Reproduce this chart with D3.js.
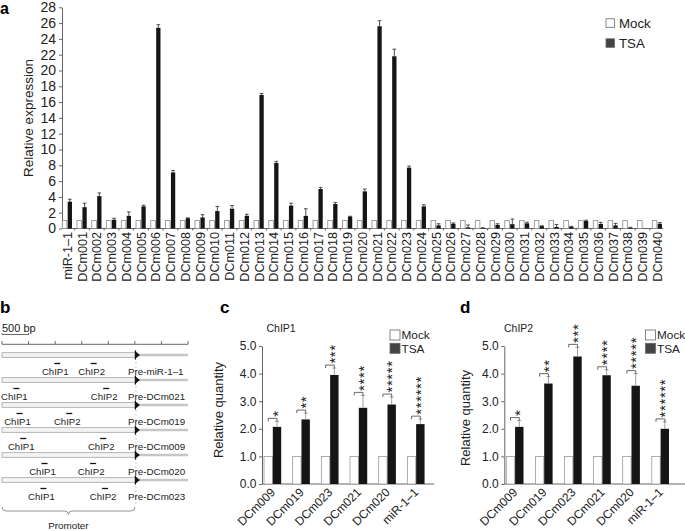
<!DOCTYPE html>
<html><head><meta charset="utf-8">
<script src="https://cdn.jsdelivr.net/npm/d3@7"></script>
<style>
body{margin:0;background:#fff;}
svg{font-family:"Liberation Sans",Arial,Helvetica,sans-serif;}
</style></head>
<body><svg id="c" width="685" height="531"></svg>
<script>
// ---------------- DATA ----------------
const aCats = ["miR-1–1","DCm001","DCm002","DCm003","DCm004","DCm005","DCm006","DCm007","DCm008","DCm009","DCm010",
 "DCm011","DCm012","DCm013","DCm014","DCm015","DCm016","DCm017","DCm018","DCm019","DCm020",
 "DCm021","DCm022","DCm023","DCm024","DCm025","DCm026","DCm027","DCm028","DCm029","DCm030",
 "DCm031","DCm032","DCm033","DCm034","DCm035","DCm036","DCm037","DCm038","DCm039","DCm040"];
const aMock = [1,1,1,1,1,1,1,1,1,1,1, 1,1,1,1,1,1,1,1,1,1, 1,1,1,1,1,1,1,1,1,1, 1,1,1,1,1,1,1,1,1,1];
const aTSA = [3.4,2.7,4.1,1.1,1.6,2.8,25.4,7.1,1.3,1.4,2.2,
 2.5,1.6,16.9,8.3,2.9,1.6,5.0,3.1,1.5,4.7,
 25.6,21.8,7.7,2.8,0.4,0.6,0.15,0.05,0.45,0.55,
 0.65,0.3,0.2,0.22,0.95,0.57,0.4,0.1,0.02,0.6];
const aTSAerr = [0.3,0.5,0.4,0.2,0.5,0.15,0.4,0.25,0.05,0.35,0.6,
 0.4,0.2,0.2,0.2,0.3,0.9,0.2,0.2,0.05,0.3,
 0.7,0.9,0.2,0.2,0.2,0.1,0.3,0.05,0.15,0.65,
 0.15,0.05,0.3,0.05,0.1,0.2,0.25,0.05,0,0.15];
const aYTicks = [0,2,4,6,8,10,12,14,16,18,20,22,24,26,28];

const bRows = ["Pre-miR-1–1","Pre-DCm021","Pre-DCm019","Pre-DCm009","Pre-DCm020","Pre-DCm023"];
const bChip1 = [1040,270,330,400,800,780];     // bp
const bChip2 = [1725,1960,1265,1905,1715,1940]; // bp
const bTSS = 2520;
const bLen = 3500;

const chipCats = ["DCm009","DCm019","DCm023","DCm021","DCm020","miR-1–1"];
const chipMock = [1,1,1,1,1,1];
const chip1TSA = [2.07,2.34,3.95,2.76,2.88,2.17];
const chip1Err = [0.2,0.23,0.25,0.45,0.27,0.18];
const chip2TSA = [2.07,3.64,4.62,3.94,3.56,2.0];
const chip2Err = [0.23,0.25,0.33,0.2,0.44,0.25];
const chipStars = [1,2,3,4,5,6];
const chipYTicks = [0,1,2,3,4,5];

// ---------------- DRAW ----------------
const svg = d3.select("#c");
const axisCol = "#666", txtCol = "#222";

// ===== Panel a =====
const ga = svg.append("g");
const xa = d3.scaleBand().domain(aCats).range([59.9, 664.65]);
const ya = d3.scaleLinear().domain([0,28]).range([228.5, 7.3]);
ga.append("text").attr("x",0).attr("y",14).attr("font-weight","bold").attr("font-size",16).text("a");

const yAx = ga.append("g").attr("transform","translate(62,0)")
  .call(d3.axisLeft(ya).tickValues(aYTicks).tickSize(3).tickSizeOuter(0).tickPadding(3));
yAx.select(".domain").attr("stroke",axisCol);
yAx.selectAll(".tick line").attr("stroke",axisCol);
yAx.selectAll("text").attr("font-size",14).attr("fill",txtCol).attr("font-family","Liberation Sans, Arial, sans-serif");

ga.append("text").attr("transform","translate(28,118) rotate(-90)").attr("dy","0.35em")
  .attr("text-anchor","middle").attr("font-size",13.5).attr("fill",txtCol).text("Relative expression");

// x axis
ga.append("line").attr("x1",62).attr("x2",663).attr("y1",ya(0)).attr("y2",ya(0)).attr("stroke",axisCol);
ga.selectAll(".xt").data(aCats.slice(1)).join("line")
  .attr("x1",d=>xa(d)).attr("x2",d=>xa(d)).attr("y1",ya(0)).attr("y2",ya(0)+2).attr("stroke",axisCol);

const cx = d=>xa(d)+xa.bandwidth()/2;
ga.selectAll(".mock").data(aCats).join("rect")
  .attr("x",d=>cx(d)-5).attr("width",4.6)
  .attr("y",(d,i)=>ya(aMock[i])).attr("height",(d,i)=>ya(0)-ya(aMock[i]))
  .attr("fill","#fff").attr("stroke","#888").attr("stroke-width",0.8);
ga.selectAll(".tsa").data(aCats).join("rect")
  .attr("x",d=>cx(d)+0.4).attr("width",4.3)
  .attr("y",(d,i)=>ya(aTSA[i])).attr("height",(d,i)=>ya(0)-ya(aTSA[i]))
  .attr("fill","#151515");
aCats.forEach((d,i)=>{
  if(aTSAerr[i]<=0) return;
  const ex = cx(d)+2.55, y1=ya(aTSA[i]), y2=ya(aTSA[i]+aTSAerr[i]);
  ga.append("line").attr("x1",ex).attr("x2",ex).attr("y1",y1).attr("y2",y2).attr("stroke","#222").attr("stroke-width",0.8);
  ga.append("line").attr("x1",ex-1.8).attr("x2",ex+1.8).attr("y1",y2).attr("y2",y2).attr("stroke","#222").attr("stroke-width",0.8);
});
ga.selectAll(".xl").data(aCats).join("text")
  .attr("transform",d=>`translate(${cx(d)},232) rotate(-90)`)
  .attr("dy","0.36em").attr("text-anchor","end").attr("font-size",12.6).attr("fill",txtCol).text(d=>d);

// legend a
const legA = [["Mock","#fff"],["TSA","#444"]];
legA.forEach((l,i)=>{
  const yy = 23.3 + i*20;
  ga.append("rect").attr("x",606).attr("y",yy-4.5).attr("width",8.5).attr("height",8.5)
    .attr("fill",l[1]).attr("stroke","#666").attr("stroke-width",0.8);
  ga.append("text").attr("x",619).attr("y",yy).attr("dy","0.36em").attr("font-size",13.3).attr("fill",txtCol).text(l[0]);
});

// ===== Panel b =====
const gb = svg.append("g");
const xbp = d3.scaleLinear().domain([0,bLen]).range([2,188]);
gb.append("text").attr("x",0).attr("y",313).attr("font-weight","bold").attr("font-size",17).text("b");
gb.append("text").attr("x",2).attr("y",331.5).attr("font-size",11).attr("fill",txtCol).text("500 bp");
gb.append("line").attr("x1",xbp(0)).attr("x2",xbp(500)).attr("y1",334.5).attr("y2",334.5).attr("stroke","#444").attr("stroke-width",0.8);
[0,500].forEach(v=>gb.append("line").attr("x1",xbp(v)).attr("x2",xbp(v)).attr("y1",333).attr("y2",334.5).attr("stroke","#444").attr("stroke-width",0.8));
// ruler
gb.append("line").attr("x1",xbp(0)).attr("x2",xbp(bLen)).attr("y1",344.3).attr("y2",344.3).attr("stroke","#444").attr("stroke-width",0.8);
d3.range(0,bLen+1,500).forEach(v=>gb.append("line").attr("x1",xbp(v)).attr("x2",xbp(v)).attr("y1",341).attr("y2",344.3).attr("stroke","#444").attr("stroke-width",0.8));
// vertical dashed TSS line
gb.append("line").attr("x1",xbp(bTSS)).attr("x2",xbp(bTSS)).attr("y1",350).attr("y2",506)
  .attr("stroke","#bbb").attr("stroke-width",0.7).attr("stroke-dasharray","2,2");

const rowY = d3.scaleLinear().domain([0,5]).range([355,480]);
bRows.forEach((name,i)=>{
  const by = rowY(i), ty = by+20;
  const tx = xbp(bTSS);
  gb.append("rect").attr("x",xbp(0)).attr("y",by-2.3).attr("width",tx-xbp(0)).attr("height",4.6)
    .attr("fill","#f3f3f3").attr("stroke","#9a9a9a").attr("stroke-width",0.7);
  gb.append("line").attr("x1",tx+3).attr("x2",xbp(bLen)).attr("y1",by).attr("y2",by).attr("stroke","#c6c6c6").attr("stroke-width",2.6);
  gb.append("path").attr("d",`M${tx-1},${by-4}L${tx+4},${by}L${tx-1},${by+4}Z`).attr("fill","#111");
  gb.append("line").attr("x1",tx-0.5).attr("x2",tx-0.5).attr("y1",by-4.5).attr("y2",by+4.5).attr("stroke","#111").attr("stroke-width",1.2);
  [[bChip1[i],"ChIP1"],[bChip2[i],"ChIP2"]].forEach(([bp,lab])=>{
    const px = xbp(bp);
    gb.append("line").attr("x1",px-3).attr("x2",px+3).attr("y1",ty-11.5).attr("y2",ty-11.5).attr("stroke","#111").attr("stroke-width",1.3);
    gb.append("text").attr("x",px-2).attr("y",ty).attr("text-anchor","middle").attr("font-size",9.6).attr("fill",txtCol).text(lab);
  });
  gb.append("text").attr("x",128).attr("y",ty).attr("font-size",9.8).attr("fill",txtCol).text(name);
});
// brace
const bx0 = xbp(0), bx1 = xbp(bTSS)-1, bm=(bx0+bx1)/2;
gb.append("path").attr("d",`M${bx0},507 Q${bx0},511 ${bx0+4},511 L${bm-4},511 Q${bm},511 ${bm},514.5 Q${bm},511 ${bm+4},511 L${bx1-4},511 Q${bx1},511 ${bx1},507`)
  .attr("fill","none").attr("stroke","#777").attr("stroke-width",0.8);
gb.append("text").attr("x",bm).attr("y",529).attr("text-anchor","middle").attr("font-size",9.8).attr("fill",txtCol).text("Promoter");

// ===== Panels c, d =====
function chipPanel(o){
  const g = svg.append("g");
  const yC = d3.scaleLinear().domain([0,5]).range([484,346]);
  const xC = d3.scaleBand().domain(chipCats).range([o.x0, o.x0+6*o.step]);
  g.append("text").attr("x",o.letterX).attr("y",313).attr("font-weight","bold").attr("font-size",17).text(o.letter);
  g.append("text").attr("x",o.titleX).attr("y",331.5).attr("font-size",10.5).attr("fill",txtCol).text(o.title);
  const ax = g.append("g").attr("transform",`translate(${o.x0},0)`)
    .call(d3.axisLeft(yC).tickValues(chipYTicks).tickFormat(d3.format(".1f")).tickSize(3).tickSizeOuter(0).tickPadding(2.5));
  ax.select(".domain").attr("stroke",axisCol);
  ax.selectAll(".tick line").attr("stroke",axisCol);
  ax.selectAll("text").attr("font-size",12).attr("fill",txtCol).attr("font-family","Liberation Sans, Arial, sans-serif");
  g.append("line").attr("x1",o.x0).attr("x2",o.axisEnd).attr("y1",yC(0)).attr("y2",yC(0)).attr("stroke",axisCol);
  g.append("text").attr("transform",`translate(${o.ylabX},${o.ylabY}) rotate(-90)`).attr("dy","0.35em")
    .attr("text-anchor","middle").attr("font-size",13).attr("fill",txtCol).text("Relative quantity");
  const bw = 8.4;
  chipCats.forEach((c,i)=>{
    const mx = xC(c)+2, tx = xC(c)+10.8;
    g.append("rect").attr("x",mx).attr("y",yC(chipMock[i])).attr("width",bw).attr("height",yC(0)-yC(chipMock[i]))
      .attr("fill","#fff").attr("stroke","#999").attr("stroke-width",0.8);
    g.append("rect").attr("x",tx).attr("y",yC(o.tsa[i])).attr("width",bw).attr("height",yC(0)-yC(o.tsa[i]))
      .attr("fill","#151515");
    const ex = tx+bw/2, y1=yC(o.tsa[i]), y2=yC(o.tsa[i]+o.err[i]);
    g.append("line").attr("x1",ex).attr("x2",ex).attr("y1",y1).attr("y2",y2).attr("stroke","#888").attr("stroke-width",0.8);
    g.append("line").attr("x1",ex-2).attr("x2",ex+2).attr("y1",y2).attr("y2",y2).attr("stroke","#888").attr("stroke-width",0.8);
    const bl = mx+bw/2, br = ex, byy = y2-3;
    g.append("path").attr("d",`M${bl},${byy+3}L${bl},${byy}L${br},${byy}L${br},${byy+3}`)
      .attr("fill","none").attr("stroke","#444").attr("stroke-width",0.8);
    g.append("text").attr("transform",`translate(${(bl+br)/2+1},${byy-1.5}) rotate(-90)`)
      .attr("dy","0.6em").attr("font-size",15).attr("letter-spacing",0.6).attr("fill","#1a1a1a").text("*".repeat(chipStars[i]));
    g.append("text").attr("transform",`translate(${xC(c)+11},490) rotate(-45)`)
      .attr("text-anchor","end").attr("dy","0.35em").attr("font-size",12).attr("fill",txtCol).text(c);
  });
  [["Mock","#fff"],["TSA","#444"]].forEach((l,i)=>{
    const yy = 335 + i*13.3;
    g.append("rect").attr("x",o.legX).attr("y",yy-5).attr("width",10).attr("height",10)
      .attr("fill",l[1]).attr("stroke","#666").attr("stroke-width",0.8);
    g.append("text").attr("x",o.legX+11.5).attr("y",yy).attr("dy","0.36em").attr("font-size",11.8).attr("fill",txtCol).text(l[0]);
  });
}
chipPanel({letter:"c",letterX:220,title:"ChIP1",titleX:266.5,x0:262,step:28.67,axisEnd:434,
  tsa:chip1TSA,err:chip1Err,ylabX:218,ylabY:410,legX:390});
chipPanel({letter:"d",letterX:460,title:"ChIP2",titleX:504,x0:504.3,step:29.1,axisEnd:685,
  tsa:chip2TSA,err:chip2Err,ylabX:465,ylabY:418,legX:645.5});
</script></body></html>
